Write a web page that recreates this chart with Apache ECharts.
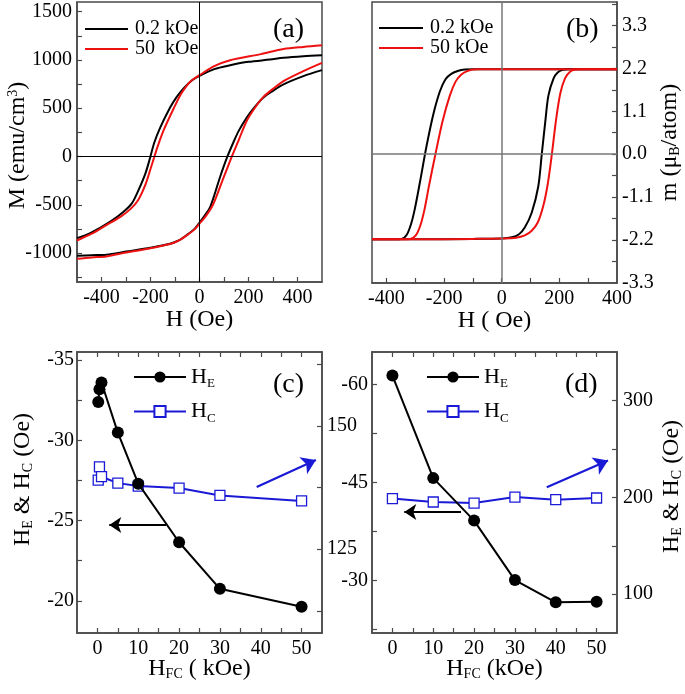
<!DOCTYPE html>
<html><head><meta charset="utf-8">
<script src="https://cdn.jsdelivr.net/npm/echarts@6/dist/echarts.min.js"></script>
<style>html,body{margin:0;padding:0;background:#fff}#c{width:685px;height:694px}</style>
</head><body><div id="c"></div>
<script>
// ---------------- data ----------------
// panel (a): M (emu/cm3) vs H (Oe)
const aBlackDown = [[500,1048],[424,1038],[343,1022],[288,1004],[200,980],[125,945],[60,905],[0,835],[-30,790],[-65,706],[-95,610],[-120,507],[-160,301],[-185,140],[-201,-7],[-221,-178],[-249,-349],[-276,-486],[-310,-572],[-364,-675],[-446,-795],[-500,-846]];
const aBlackUp = [[-500,-1028],[-440,-1022],[-380,-1017],[-300,-985],[-200,-945],[-120,-904],[-85,-870],[-51,-812],[-20,-750],[0,-685],[22,-610],[44,-521],[84,-212],[114,0],[139,150],[160,265],[193,404],[225,510],[261,610],[300,680],[343,747],[424,832],[500,894]];
const aRedDown = [[500,1151],[424,1135],[343,1113],[250,1060],[125,997],[60,935],[0,842],[-30,792],[-50,740],[-75,650],[-105,500],[-145,280],[-170,110],[-184,0],[-200,-130],[-222,-300],[-250,-450],[-280,-540],[-320,-620],[-380,-710],[-440,-800],[-500,-870]];
const aRedUp = [[-500,-1059],[-440,-1045],[-380,-1035],[-300,-995],[-200,-950],[-120,-906],[-85,-872],[-51,-815],[-20,-755],[0,-695],[25,-620],[55,-500],[95,-240],[132,0],[160,170],[193,370],[225,500],[261,617],[300,700],[343,781],[424,884],[500,969]];
// panel (b): m (muB/atom) vs H (Oe)
const bBlackDown = [[400,2.18],[200,2.18],[0,2.18],[-100,2.18],[-128,2.17],[-150,2.14],[-175,2.06],[-195,1.92],[-215,1.6],[-238,1.0],[-261,0.2],[-284,-0.73],[-302,-1.42],[-315,-1.8],[-330,-2.07],[-348,-2.17],[-400,-2.18],[-450,-2.18]];
const bBlackUp = [[-450,-2.18],[-300,-2.18],[-100,-2.17],[0,-2.16],[35,-2.13],[60,-2.05],[80,-1.88],[104,-1.5],[127,-0.82],[139,0],[151,0.82],[162,1.5],[180,1.94],[195,2.1],[212,2.16],[230,2.18],[400,2.18]];
const bRedDown = [[400,2.18],[0,2.18],[-80,2.18],[-100,2.17],[-120,2.13],[-140,2.04],[-160,1.86],[-180,1.5],[-205,0.85],[-230,0],[-252,-0.8],[-268,-1.42],[-282,-1.82],[-298,-2.08],[-318,-2.17],[-360,-2.18],[-450,-2.18]];
const bRedUp = [[-450,-2.18],[-300,-2.18],[-100,-2.17],[0,-2.16],[50,-2.14],[80,-2.08],[104,-1.96],[125,-1.75],[145,-1.3],[160,-0.75],[174,0],[188,0.85],[203,1.55],[220,1.95],[238,2.12],[255,2.17],[275,2.18],[400,2.18]];
// panel (c)
const hfcC = [0.2, 0.5, 1, 5, 10, 20, 30, 50];
const heC  = [-32.39, -33.18, -33.6, -30.48, -27.3, -23.65, -20.75, -19.63];
const hcC  = [139.0, 141.7, 139.7, 138.4, 137.8, 137.4, 135.9, 134.8];
// panel (d)
const hfcD = [0, 10, 20, 30, 40, 50];
const heD  = [-61.4, -45.7, -39.2, -30.1, -26.7, -26.8];
const hcD  = [198.7, 195.2, 194.1, 200.3, 197.6, 199.3];
// tick labels / tick positions
const aXLabels = [-400,-200,0,200,400];
const aXTicks  = [-400,-300,-200,-100,0,100,200,300,400];
const aYLabels = [-1000,-500,0,500,1000,1500];
const aYTicks  = [-1250,-1000,-750,-500,-250,0,250,500,750,1000,1250,1500];
const bXLabels = [-400,-200,0,200,400];
const bXTicks  = [-400,-300,-200,-100,0,100,200,300];
const bYLabels = [-3.3,-2.2,-1.1,0,1.1,2.2,3.3];
const bYTicks  = [-2.75,-2.2,-1.65,-1.1,-0.55,0,0.55,1.1,1.65,2.2,2.75,3.3,3.85];
const fcXLabels = [0,10,20,30,40,50];
const fcXTicks  = [0,5,10,15,20,25,30,35,40,45,50];
const cLLabels = [-35,-30,-25,-20];
const cLTicks  = [-35,-32.5,-30,-27.5,-25,-22.5,-20];
const cRLabels = [125,150];
const cRTicks  = [112.5,125,137.5,150,162.5];
const dLLabels = [-60,-45,-30];
const dLTicks  = [-60,-52.5,-45,-37.5,-30,-22.5];
const dRLabels = [100,200,300];
const dRTicks  = [100,150,200,250,300];
// arrows (data coordinates)
const cArrowHE = [[16.8,-24.73],[2.9,-24.73]];
const cArrowHC = [[39,137.6],[53.5,143.1]];
const dArrowHE = [[16.8,-40.5],[2.9,-40.5]];
const dArrowHC = [[37.8,210.3],[52.8,238]];

// ---------------- styling ----------------
const FONT = '"Liberation Serif","Times New Roman",Times,serif';
const AX = '#4a4a4a';
const BLACK = '#000000', RED = '#ee1111', BLUE = '#1a1ad6';
const richSub = {
  sub:{fontSize:14, fontFamily:FONT, color:'#000', verticalAlign:'bottom', padding:[9,0,0,0]},
  sup:{fontSize:14, fontFamily:FONT, color:'#000', verticalAlign:'top', padding:[0,0,9,0]}
};
function vAxis(o){
  return {
    type:'value', gridIndex:o.grid, position:o.pos, min:o.min, max:o.max, inverse:!!o.inverse,
    axisLine:{show:true,onZero:false,lineStyle:{color:AX,width:1.5}},
    axisTick:{show:true,inside:true,length:5,customValues:o.ticks,lineStyle:{color:AX,width:1.2}},
    axisLabel:{show:!!o.labels,customValues:o.labels||[],margin:o.margin||5,color:'#000',fontSize:20,fontFamily:FONT,
      formatter:o.fmt||(v=>String(v))},
    splitLine:{show:false}, minorTick:{show:false},
    name:o.name||'', nameLocation:'middle', nameGap:o.nameGap||30, nameMoveOverlap:false,
    nameTextStyle:{fontSize:24,fontFamily:FONT,color:'#000',padding:o.namePad||0,rich:richSub}
  };
}
function gridBox(l,t,w,h){return {left:l,top:t,width:w,height:h,show:true,borderColor:AX,borderWidth:1.5,backgroundColor:'transparent',outerBoundsMode:'none',containLabel:false};}
function loopSeries(name,data,color,xi,yi){
  return {type:'line',name:name,data:data,xAxisIndex:xi,yAxisIndex:yi,symbol:'none',smooth:0.3,
    lineStyle:{color:color,width:2},itemStyle:{color:color},clip:true,z:3};
}
function zeroLines(color,width){
  return {silent:true,symbol:['none','none'],label:{show:false},lineStyle:{color:color,width:width,type:'solid'},
    data:[{xAxis:0},{yAxis:0}],animation:false};
}
function arrow(pts,color,size,width){
  return {silent:true,symbol:['none','arrow'],symbolSize:size,label:{show:false},
    lineStyle:{color:color,width:width,type:'solid'},itemStyle:{color:color},
    data:[[{coord:pts[0]},{coord:pts[1]}]],animation:false};
}
const pair = (xs,ys)=>xs.map((x,i)=>[x,ys[i]]);
const legendRich = {m:{fontSize:22,fontFamily:FONT,color:'#000'},s:{fontSize:13,fontFamily:FONT,color:'#000',verticalAlign:'bottom',padding:[14,0,0,0]}};
const legendFmt = n => n==='HE' ? '{m|H}{s|E}' : '{m|H}{s|C}';
const panelTitle = (t,l,tp)=>({text:t,left:l,top:tp,padding:0,textStyle:{fontSize:28,fontWeight:'normal',fontFamily:FONT,color:'#000'}});
const lineLegend = (l,t,w,names)=>({left:l,top:t,orient:'vertical',icon:'rect',itemWidth:w,itemHeight:2,itemGap:0,padding:0,selectedMode:false,
     data:names,textStyle:{fontSize:20,fontFamily:FONT,color:'#000',padding:[0,0,0,2]}});

const option = {
  animation:false,
  backgroundColor:'#ffffff',
  title:[panelTitle('(a)',273,16),panelTitle('(b)',566,16),panelTitle('(c)',273,371),panelTitle('(d)',565,371)],
  grid:[gridBox(77,2,245,280),gridBox(372,2,245,281),gridBox(77,352,245,281),gridBox(372,352,245,281)],
  legend:[
    lineLegend(85,19,43,['0.2 kOe','50  kOe']),
    lineLegend(379,18,44,['0.2 kOe','50 kOe']),
    {left:133,top:366,orient:'vertical',itemWidth:52,itemHeight:14,itemGap:10,padding:0,selectedMode:false,
     data:['HE','HC'],formatter:legendFmt,textStyle:{fontSize:22,fontFamily:FONT,color:'#000',rich:legendRich}},
    {left:426,top:366,orient:'vertical',itemWidth:52,itemHeight:14,itemGap:10,padding:0,selectedMode:false,
     data:['HE','HC'],formatter:legendFmt,textStyle:{fontSize:22,fontFamily:FONT,color:'#000',rich:legendRich}}
  ],
  xAxis:[
    vAxis({grid:0,pos:'bottom',min:-500,max:500,ticks:aXTicks,labels:aXLabels,margin:6,name:'H (Oe)',nameGap:26}),
    vAxis({grid:1,pos:'bottom',min:-450,max:400,ticks:bXTicks,labels:bXLabels,margin:6,name:'H ( Oe)',nameGap:26}),
    vAxis({grid:2,pos:'bottom',min:-5,max:55,ticks:fcXTicks,labels:fcXLabels,margin:6,name:'H{sub|FC} ( kOe)',nameGap:24}),
    vAxis({grid:2,pos:'top',min:-5,max:55,ticks:fcXTicks}),
    vAxis({grid:3,pos:'bottom',min:-5,max:55,ticks:fcXTicks,labels:fcXLabels,margin:6,name:'H{sub|FC} (kOe)',nameGap:24}),
    vAxis({grid:3,pos:'top',min:-5,max:55,ticks:fcXTicks})
  ],
  yAxis:[
    vAxis({grid:0,pos:'left',min:-1300,max:1600,ticks:aYTicks,labels:aYLabels,margin:5,name:'M (emu/cm{sup|3})',nameGap:47,namePad:[0,7,0,0]}),
    vAxis({grid:1,pos:'right',min:-3.3,max:3.9,ticks:bYTicks,labels:bYLabels,margin:5,fmt:v=>Number(v).toFixed(1),name:'m (μ{sub|B}/atom)',nameGap:41}),
    vAxis({grid:2,pos:'left',min:-35.5,max:-18,inverse:true,ticks:cLTicks,labels:cLLabels,margin:3,name:'H{sub|E} & H{sub|C} (Oe)',nameGap:42,namePad:[0,0,0,26]}),
    vAxis({grid:2,pos:'right',min:108,max:165,ticks:cRTicks,labels:cRLabels,margin:5}),
    vAxis({grid:3,pos:'left',min:-65,max:-22,inverse:true,ticks:dLTicks,labels:dLLabels,margin:4}),
    vAxis({grid:3,pos:'right',min:60,max:350,ticks:dRTicks,labels:dRLabels,margin:6,name:'H{sub|E} & H{sub|C} (Oe)',nameGap:43,namePad:[0,0,0,12]})
  ],
  series:[
    Object.assign(loopSeries('0.2 kOe',aBlackDown,BLACK,0,0),{markLine:zeroLines('#000',1)}),
    loopSeries('0.2 kOe',aBlackUp,BLACK,0,0),
    loopSeries('50  kOe',aRedDown,RED,0,0),
    loopSeries('50  kOe',aRedUp,RED,0,0),
    Object.assign(loopSeries('0.2 kOe',bBlackDown,BLACK,1,1),{markLine:zeroLines('#777',1.5)}),
    loopSeries('0.2 kOe',bBlackUp,BLACK,1,1),
    loopSeries('50 kOe',bRedDown,RED,1,1),
    loopSeries('50 kOe',bRedUp,RED,1,1),
    {type:'line',name:'HC',data:pair(hfcC,hcC),xAxisIndex:2,yAxisIndex:3,symbol:'rect',symbolSize:10,
     lineStyle:{color:BLUE,width:2},itemStyle:{color:'#ffffff',borderColor:BLUE,borderWidth:1.3},z:3,
     markLine:arrow(cArrowHC,BLUE,14,2.2)},
    {type:'line',name:'HE',data:pair(hfcC,heC),xAxisIndex:2,yAxisIndex:2,symbol:'circle',symbolSize:12,
     lineStyle:{color:BLACK,width:2},itemStyle:{color:BLACK},z:4,
     markLine:arrow(cArrowHE,BLACK,12,2)},
    {type:'line',name:'HC',data:pair(hfcD,hcD),xAxisIndex:4,yAxisIndex:5,symbol:'rect',symbolSize:10,
     lineStyle:{color:BLUE,width:2},itemStyle:{color:'#ffffff',borderColor:BLUE,borderWidth:1.3},z:3,
     markLine:arrow(dArrowHC,BLUE,14,2.2)},
    {type:'line',name:'HE',data:pair(hfcD,heD),xAxisIndex:4,yAxisIndex:4,symbol:'circle',symbolSize:12,
     lineStyle:{color:BLACK,width:2},itemStyle:{color:BLACK},z:4,
     markLine:arrow(dArrowHE,BLACK,12,2)}
  ]
};
const chart = echarts.init(document.getElementById('c'),null,{renderer:'canvas'});
chart.setOption(option);
</script>
</body></html>
